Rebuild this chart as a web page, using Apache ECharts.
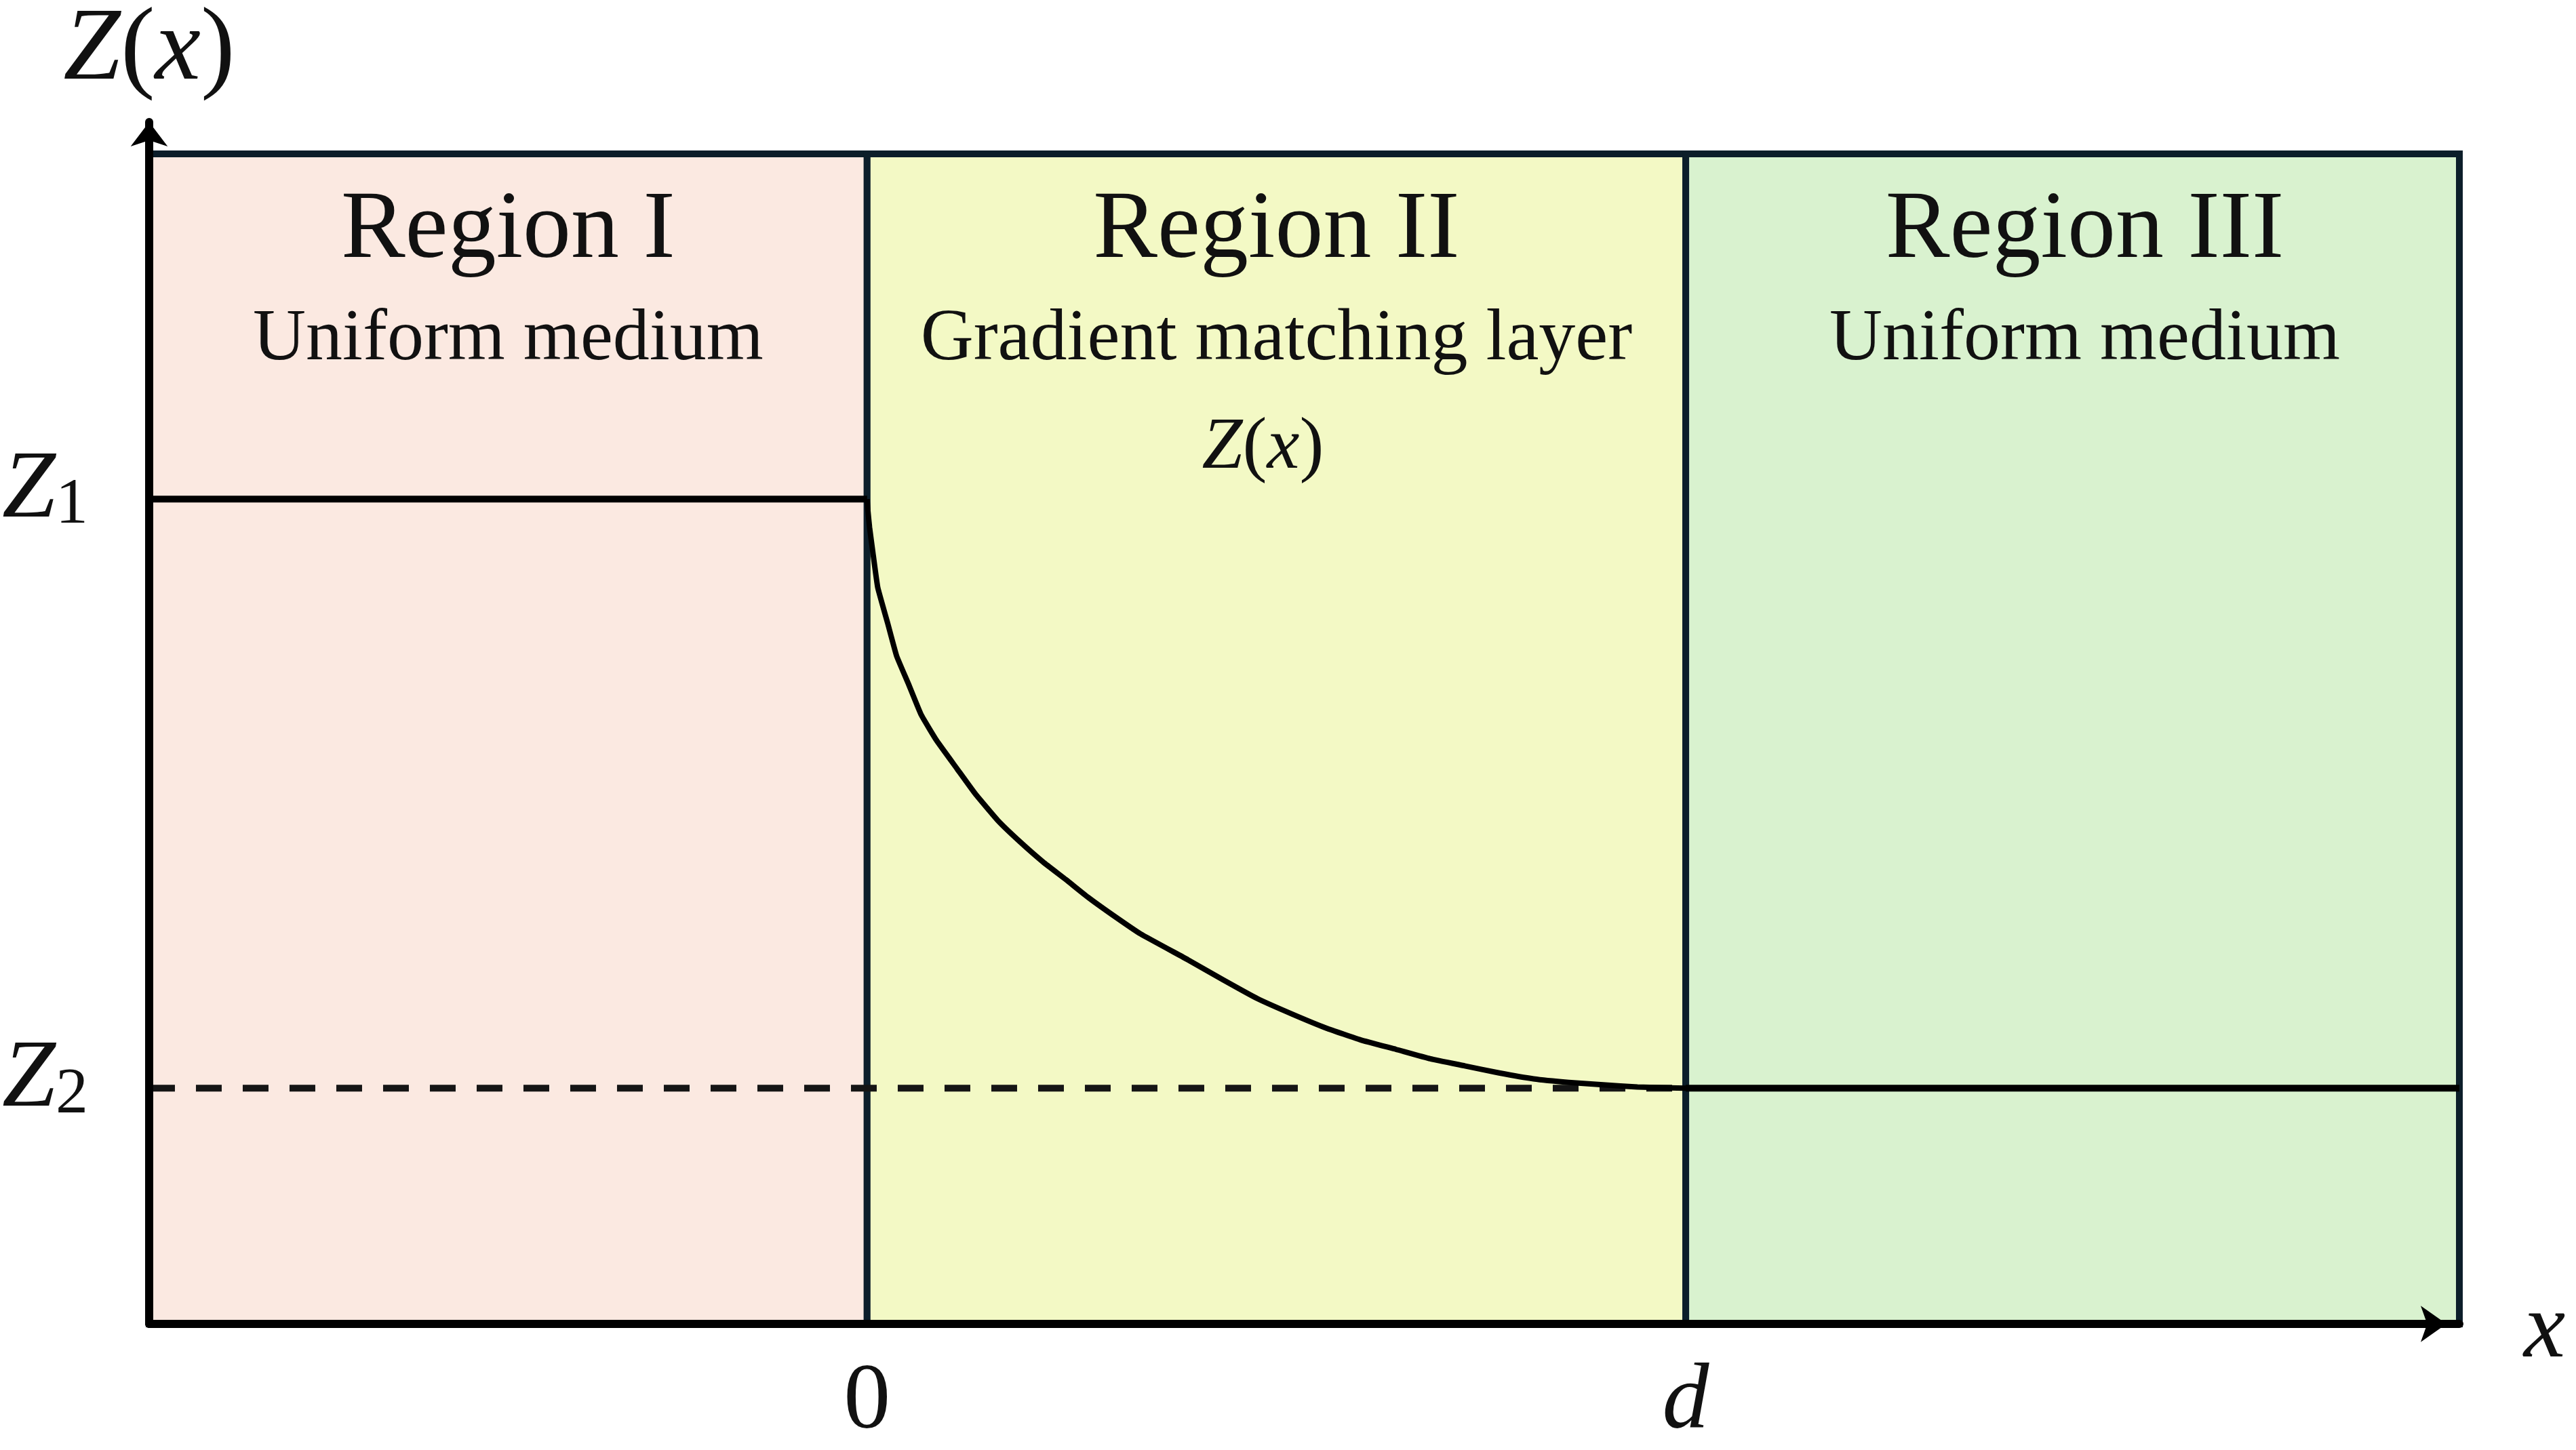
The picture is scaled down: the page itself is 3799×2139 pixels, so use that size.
<!DOCTYPE html>
<html>
<head>
<meta charset="utf-8">
<script src="https://cdn.jsdelivr.net/npm/echarts@6/dist/echarts.min.js"></script>
<style>
html,body{margin:0;padding:0;background:#fff;}
#chart{width:3799px;height:2139px;}
</style>
</head>
<body>
<div id="chart"></div>
<script>
// ---- data ----
const xDomain = [-8.77, 19.45];
const yDomain = [0, 10.2];
const regionBounds = [-8.77, 0, 10, 19.45];
const regionTop = 9.93;
const regionTitles = ['Region I', 'Region II', 'Region III'];
const regionSubtitles = ['Uniform medium', 'Gradient matching layer', 'Uniform medium'];
const Z1 = 7;
const Z2 = 2;
const D = 10;
const curveX = [0, 0.01, 0.03, 0.07, 0.13, 0.25, 0.36, 0.50, 0.66, 0.85, 1.10, 1.32, 1.60, 1.87, 2.15, 2.43, 2.70, 2.98, 3.34, 3.92, 4.35, 4.77, 5.19, 5.61, 6.03, 6.46, 6.88, 7.30, 7.72, 8.14, 8.57, 8.99, 9.41, 10];
const curveY = [7.0, 6.90, 6.76, 6.55, 6.25, 5.95, 5.67, 5.44, 5.17, 4.95, 4.71, 4.50, 4.27, 4.09, 3.92, 3.77, 3.62, 3.48, 3.31, 3.09, 2.92, 2.76, 2.63, 2.51, 2.41, 2.33, 2.25, 2.19, 2.13, 2.08, 2.05, 2.03, 2.01, 2.0];
const xTickValues = [0, D];
const xTickLabels = ['0', 'd'];
const yTickValues = [Z2, Z1];
const yTickLabels = ['Z2', 'Z1'];

// ---- styles ----
const SERIF = "'Liberation Serif', 'DejaVu Serif', serif";
const TXT = '#111111';
const regionColors = ['#FBE9E1', '#F3F9C5', '#D9F2CF'];
const borderColor = '#0c1e2a';

const chart = echarts.init(document.getElementById('chart'), null, {renderer: 'canvas'});

const areas = regionTitles.map((t, i) => [
  {xAxis: regionBounds[i], yAxis: 0, itemStyle: {color: regionColors[i], borderColor: borderColor, borderWidth: 10}},
  {xAxis: regionBounds[i + 1], yAxis: regionTop}
]);

const centers = regionTitles.map((t, i) => (regionBounds[i] + regionBounds[i + 1]) / 2);
const labelShift = [[0, 0], [0, 0], [18, 0]];

const mathRich = {
  i: {fontFamily: SERIF, fontStyle: 'italic', color: TXT},
  r: {fontFamily: SERIF, color: TXT}
};
function withSize(rich, size) {
  const o = {};
  Object.keys(rich).forEach(k => { o[k] = Object.assign({}, rich[k], {fontSize: size}); });
  return o;
}

const hiddenPoint = {color: 'rgba(0,0,0,0)', opacity: 1};

const option = {
  backgroundColor: '#ffffff',
  animation: false,
  grid: {left: 218, right: 172, top: 179, bottom: 153, containLabel: false},
  xAxis: {
    type: 'value', min: xDomain[0], max: xDomain[1], z: 10,
    splitLine: {show: false},
    axisTick: {show: false},
    axisLine: {show: true, onZero: false, lineStyle: {color: '#000', width: 12},
      symbol: ['none', 'arrow'], symbolSize: [40, 38], symbolOffset: [0, -19]},
    axisLabel: {
      customValues: xTickValues, margin: 48,
      formatter: v => {
        const idx = xTickValues.indexOf(v);
        const s = idx >= 0 ? xTickLabels[idx] : '';
        return /^[0-9]+$/.test(s) ? '{r|' + s + '}' : '{i|' + s + '}';
      },
      rich: withSize(mathRich, 138)
    },
    name: '{i|x}', nameLocation: 'end', nameGap: 95,
    nameTextStyle: {rich: withSize(mathRich, 138), padding: [24, 0, 0, 0], verticalAlign: 'middle'}
  },
  yAxis: {
    type: 'value', min: yDomain[0], max: yDomain[1], z: 10,
    splitLine: {show: false},
    axisTick: {show: false},
    axisLine: {show: true, onZero: false, lineStyle: {color: '#000', width: 12},
      symbol: ['none', 'arrow'], symbolSize: [41, 36]},
    axisLabel: {
      customValues: yTickValues, margin: 90, padding: [0, 0, 24, 0],
      formatter: v => {
        const idx = yTickValues.indexOf(v);
        if (idx < 0) return '';
        const s = yTickLabels[idx];
        return '{z|' + s.charAt(0) + '}{s|' + s.slice(1) + '}';
      },
      rich: {
        z: {fontFamily: SERIF, fontStyle: 'italic', fontSize: 142, lineHeight: 140, color: TXT},
        s: {fontFamily: SERIF, fontSize: 96, lineHeight: 62, verticalAlign: 'bottom', color: TXT}
      }
    },
    name: '{i|Z}{r|(}{i|x}{r|)}', nameLocation: 'end', nameGap: 28,
    nameTextStyle: {rich: withSize(mathRich, 152), align: 'center'}
  },
  series: [
    {
      type: 'line', data: [], z: 1, silent: true,
      markArea: {silent: true, data: areas, label: {show: false}}
    },
    {
      name: 'Z1', type: 'line', z: 3, symbol: 'none', silent: true,
      lineStyle: {color: '#000', width: 10},
      data: [[regionBounds[0], Z1], [0, Z1]]
    },
    {
      name: 'Z2 dashed', type: 'line', z: 3, symbol: 'none', silent: true,
      lineStyle: {color: '#151515', width: 10, type: [38, 31]},
      data: [[regionBounds[0], Z2], [D, Z2]]
    },
    {
      name: 'Z2 solid', type: 'line', z: 3, symbol: 'none', silent: true,
      lineStyle: {color: '#000', width: 10},
      data: [[D, Z2], [regionBounds[3], Z2]]
    },
    {
      name: 'Z(x)', type: 'line', z: 4, symbol: 'none', silent: true,
      smooth: 0.12,
      lineStyle: {color: '#000', width: 8, join: 'round'},
      data: curveX.map((x, i) => [x, curveY[i]])
    },
    {
      name: 'titles', type: 'scatter', z: 5, silent: true, symbolSize: 1,
      itemStyle: hiddenPoint,
      label: {show: true, position: 'inside', formatter: p => p.data.value[2],
        fontFamily: SERIF, fontSize: 142, color: TXT},
      data: regionTitles.map((t, i) => ({value: [centers[i], 9.27, t], label: {offset: labelShift[i]}}))
    },
    {
      name: 'subtitles', type: 'scatter', z: 5, silent: true, symbolSize: 1,
      itemStyle: hiddenPoint,
      label: {show: true, position: 'inside', formatter: p => p.data.value[2],
        fontFamily: SERIF, fontSize: 108, color: TXT},
      data: regionSubtitles.map((t, i) => ({value: [centers[i], 8.35, t], label: {offset: labelShift[i]}}))
    },
    {
      name: 'layer label', type: 'scatter', z: 5, silent: true, symbolSize: 1,
      itemStyle: hiddenPoint,
      label: {show: true, position: 'inside', offset: [-20, 0],
        formatter: '{i|Z}{r|(}{i|x}{r|)}', rich: withSize(mathRich, 108)},
      data: [[centers[1], 7.43]]
    }
  ]
};
chart.setOption(option);
</script>
</body>
</html>
